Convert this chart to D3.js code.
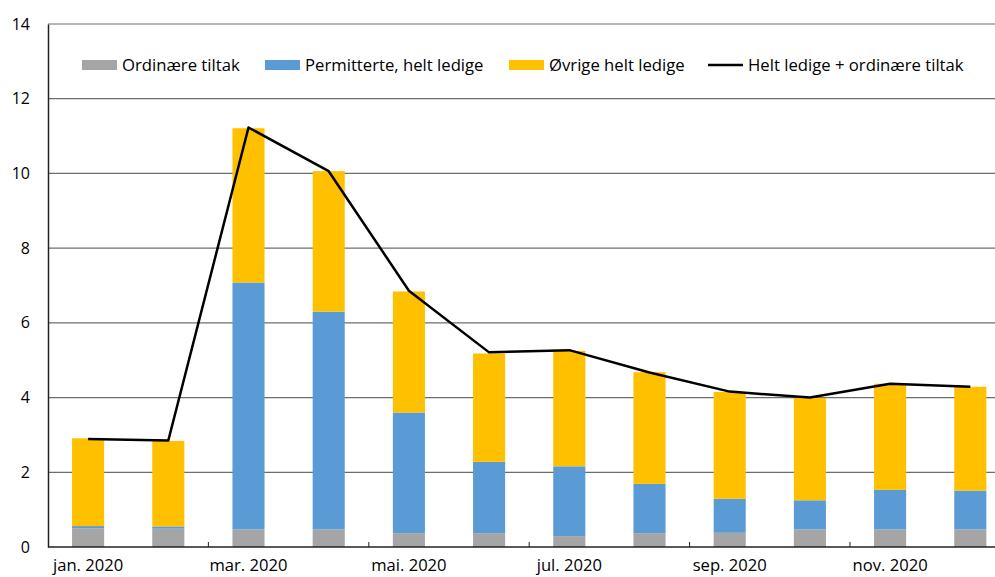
<!DOCTYPE html>
<html>
<head>
<meta charset="utf-8">
<script src="https://cdn.jsdelivr.net/npm/d3@7"></script>
<style>
  body { margin: 0; background: #fff; }
  text { font-family: "Open Sans", sans-serif; fill: #000; }
</style>
</head>
<body>
<div id="chart"></div>
<script>
// Months and series (percent of labour force)
const months = ["jan. 2020", "feb. 2020", "mar. 2020", "apr. 2020", "mai. 2020", "jun. 2020",
                "jul. 2020", "aug. 2020", "sep. 2020", "okt. 2020", "nov. 2020", "des. 2020"];
const ordinary = [0.50, 0.49, 0.47, 0.47, 0.37, 0.37, 0.29, 0.37, 0.38, 0.47, 0.47, 0.47];
const laidOff  = [0.06, 0.06, 6.61, 5.83, 3.23, 1.91, 1.87, 1.32, 0.91, 0.78, 1.06, 1.04];
const otherUnemployed = [2.35, 2.29, 4.13, 3.76, 3.24, 2.90, 3.09, 2.99, 2.86, 2.74, 2.84, 2.78];
const totalLine = [2.89, 2.85, 11.23, 10.06, 6.86, 5.21, 5.27, 4.67, 4.16, 4.00, 4.37, 4.29];
const yTicks = [0, 2, 4, 6, 8, 10, 12, 14];
const seriesNames = ["Ordinære tiltak", "Permitterte, helt ledige", "Øvrige helt ledige"];
const lineName = "Helt ledige + ordinære tiltak";
const colors = ["#a5a5a5", "#5b9bd5", "#ffc000"];

const width = 995;
const height = 577;
const margin = { top: 24, left: 48, bottom: 30 };
const plotBottom = 547;

const svg = d3.select("#chart")
              .append("svg")
              .attr("width", width)
              .attr("height", height);

// rows for the stack
const rows = months.map((m, i) => ({
    month: m,
    [seriesNames[0]]: ordinary[i],
    [seriesNames[1]]: laidOff[i],
    [seriesNames[2]]: otherUnemployed[i]
}));

const xScale = d3.scaleBand()
                 .domain(months)
                 .range([margin.left, margin.left + 12 * 80.2])
                 .paddingInner(0.6)
                 .paddingOuter(0.3);

const yScale = d3.scaleLinear()
                 .domain([0, 14])
                 .range([plotBottom, margin.top]);

// gridlines
svg.append("g")
   .selectAll("line")
   .data(yTicks.filter(d => d > 0))
   .enter()
   .append("line")
   .attr("x1", margin.left)
   .attr("x2", width)
   .attr("y1", d => yScale(d))
   .attr("y2", d => yScale(d))
   .attr("stroke", "#6e6e6e")
   .attr("stroke-width", 1.2);

// stacked bars
const stacked = d3.stack().keys(seriesNames)(rows);

svg.append("g")
   .selectAll("g")
   .data(stacked)
   .enter()
   .append("g")
   .attr("fill", (d, i) => colors[i])
   .selectAll("rect")
   .data(d => d)
   .enter()
   .append("rect")
   .attr("x", d => xScale(d.data.month))
   .attr("y", d => yScale(d[1]))
   .attr("width", xScale.bandwidth())
   .attr("height", d => yScale(d[0]) - yScale(d[1]));

// total line
const line = d3.line()
               .x((d, i) => xScale(months[i]) + xScale.bandwidth() / 2)
               .y(d => yScale(d));

svg.append("path")
   .datum(totalLine)
   .attr("d", line)
   .attr("fill", "none")
   .attr("stroke", "#000")
   .attr("stroke-width", 2.5)
   .attr("stroke-linejoin", "round");

// y axis
const yAxis = svg.append("g")
   .attr("transform", `translate(${margin.left},0)`)
   .call(d3.axisLeft(yScale).tickValues(yTicks).tickSize(0).tickPadding(18));
yAxis.select(".domain").attr("stroke", "#222").attr("stroke-width", 1.5);
yAxis.selectAll("text").style("font-size", "16px").style("font-family", "Open Sans");

// x axis: labels every other month, small inner ticks between month pairs
const xAxis = svg.append("g")
   .attr("transform", `translate(0,${plotBottom})`)
   .call(d3.axisBottom(xScale)
           .tickValues(months.filter((d, i) => i % 2 === 0))
           .tickSize(0)
           .tickPadding(12));
xAxis.select(".domain").attr("d", `M${margin.left},0H${width}`).attr("stroke", "#222").attr("stroke-width", 1.5);
xAxis.selectAll("text").style("font-size", "16.6px").style("font-family", "Open Sans");

const step = xScale.step();
svg.append("g")
   .selectAll("line")
   .data(months.filter((d, i) => i % 2 === 0 && i > 0))
   .enter()
   .append("line")
   .attr("x1", d => xScale(d) - step * 0.3)
   .attr("x2", d => xScale(d) - step * 0.3)
   .attr("y1", plotBottom)
   .attr("y2", plotBottom - 5)
   .attr("stroke", "#222")
   .attr("stroke-width", 1);

// legend
const legendItems = [
    { name: seriesNames[0], color: colors[0], type: "rect", x: 82 },
    { name: seriesNames[1], color: colors[1], type: "rect", x: 265 },
    { name: seriesNames[2], color: colors[2], type: "rect", x: 509 },
    { name: lineName, color: "#000", type: "line", x: 708 }
];
const legend = svg.append("g").attr("transform", "translate(0,65)");
const item = legend.selectAll("g")
   .data(legendItems)
   .enter()
   .append("g")
   .attr("transform", d => `translate(${d.x},0)`);
item.filter(d => d.type === "rect")
    .append("rect")
    .attr("x", 0).attr("y", -5)
    .attr("width", 35).attr("height", 10)
    .attr("fill", d => d.color);
item.filter(d => d.type === "line")
    .append("line")
    .attr("x1", 0).attr("x2", 35)
    .attr("y1", 0).attr("y2", 0)
    .attr("stroke", "#000").attr("stroke-width", 2.5);
item.append("text")
    .attr("x", 40)
    .attr("dy", "0.35em")
    .style("font-size", "16.7px")
    .text(d => d.name);
</script>
</body>
</html>
